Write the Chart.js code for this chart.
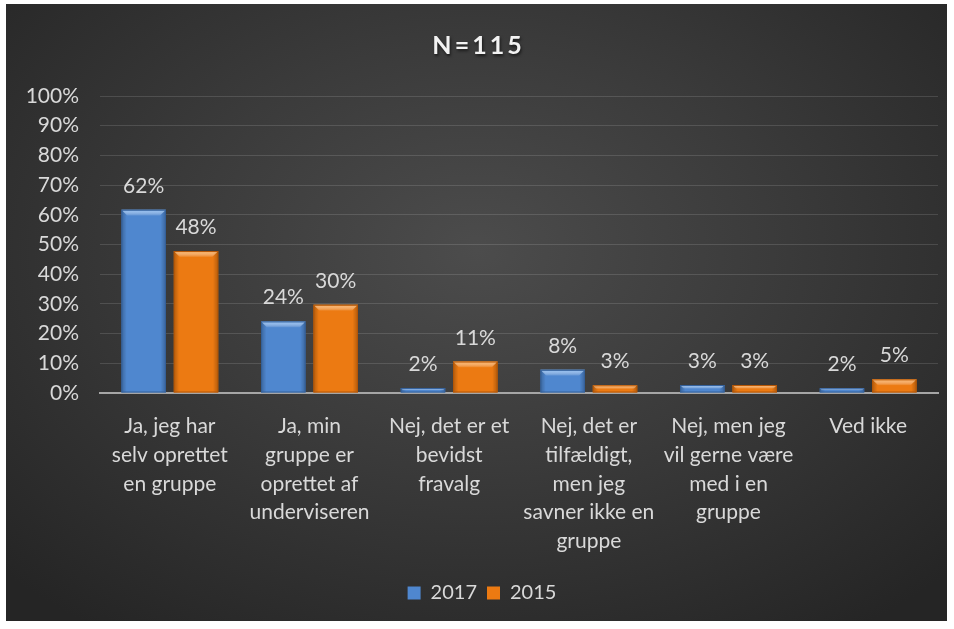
<!DOCTYPE html>
<html lang="da">
<head>
    <meta charset="UTF-8">
    <title>N=115</title>
    <script src="https://cdn.jsdelivr.net/npm/chart.js"></script>
    <style>
        body {
            margin: 0;
            background: #ffffff;
            width: 954px;
            height: 629px;
            overflow: hidden;
        }
        #wrap {
            position: absolute;
            left: 6px;
            top: 4px;
            width: 941px;
            height: 617px;
            background: radial-gradient(ellipse 70% 75% at 50% 40%, #4c4c4c 0%, #3b3b3b 45%, #252525 100%);
        }
    </style>
</head>
<body>
    <div id="wrap">
        <canvas id="myChart"></canvas>
    </div>

    <script>
        // data
        const categories = [
            ["Ja, jeg har", "selv oprettet", "en gruppe"],
            ["Ja, min", "gruppe er", "oprettet af", "underviseren"],
            ["Nej, det er et", "bevidst", "fravalg"],
            ["Nej, det er", "tilfældigt,", "men jeg", "savner ikke en", "gruppe"],
            ["Nej, men jeg", "vil gerne være", "med i en", "gruppe"],
            ["Ved ikke"]
        ];
        const seriesNames = ["2017", "2015"];
        const values2017 = [61.7, 24.1, 1.7, 7.8, 2.7, 1.6];
        const values2015 = [47.8, 29.7, 10.6, 2.6, 2.7, 4.6];
        const titleText = "N=115";

        const FONT = "Lato, 'Open Sans', sans-serif";
        const TEXT = '#d9d9d9';

        // bevel look on the bars
        const bevelPlugin = {
            id: 'bevel',
            afterDatasetsDraw(chart) {
                const ctx = chart.ctx;
                const tones = [
                    { light: '#8dbcf2', dark: '#34609a' },
                    { light: '#f9b063', dark: '#b55606' }
                ];
                chart.data.datasets.forEach((ds, i) => {
                    const meta = chart.getDatasetMeta(i);
                    meta.data.forEach(bar => {
                        const left = bar.x - bar.width / 2;
                        const right = bar.x + bar.width / 2;
                        const top = bar.y;
                        const h = bar.base - bar.y;
                        const b = Math.min(6, h / 2);
                        ctx.save();
                        // side shading
                        const g = ctx.createLinearGradient(left, 0, right, 0);
                        g.addColorStop(0, 'rgba(0,0,0,0.25)');
                        g.addColorStop(0.12, 'rgba(0,0,0,0)');
                        g.addColorStop(0.88, 'rgba(0,0,0,0)');
                        g.addColorStop(1, 'rgba(0,0,0,0.25)');
                        ctx.fillStyle = g;
                        ctx.fillRect(left, top, bar.width, h);
                        // top bevel
                        const tg = ctx.createLinearGradient(0, top, 0, top + b);
                        tg.addColorStop(0, tones[i].light);
                        tg.addColorStop(1, 'rgba(255,255,255,0.05)');
                        ctx.fillStyle = tg;
                        ctx.beginPath();
                        ctx.moveTo(left, top);
                        ctx.lineTo(right, top);
                        ctx.lineTo(right - b, top + b);
                        ctx.lineTo(left + b, top + b);
                        ctx.closePath();
                        ctx.fill();
                        ctx.strokeStyle = tones[i].dark;
                        ctx.lineWidth = 1;
                        ctx.strokeRect(left + 0.5, top + 0.5, bar.width - 1, h - 1);
                        ctx.restore();
                    });
                });
            }
        };

        // value labels above the bars
        const valueLabels = {
            id: 'valueLabels',
            afterDatasetsDraw(chart) {
                const ctx = chart.ctx;
                ctx.save();
                ctx.font = '21px ' + FONT;
                ctx.fillStyle = TEXT;
                ctx.textAlign = 'center';
                ctx.textBaseline = 'alphabetic';
                chart.data.datasets.forEach((ds, i) => {
                    chart.getDatasetMeta(i).data.forEach((bar, j) => {
                        ctx.fillText(Math.round(ds.data[j]) + '%', bar.x, bar.y - 17);
                    });
                });
                ctx.restore();
            }
        };

        // title with letter spacing and a soft shadow
        const titlePlugin = {
            id: 'spacedTitle',
            afterDraw(chart) {
                const ctx = chart.ctx;
                ctx.save();
                ctx.font = 'bold 25px ' + FONT;
                ctx.letterSpacing = '3px';
                ctx.fillStyle = '#f2f2f2';
                ctx.textAlign = 'center';
                ctx.textBaseline = 'middle';
                ctx.shadowColor = 'rgba(0,0,0,0.6)';
                ctx.shadowOffsetX = 1;
                ctx.shadowOffsetY = 2;
                ctx.shadowBlur = 3;
                ctx.fillText(titleText, chart.width / 2 + 2, 42);
                ctx.restore();
            }
        };

        const ctx = document.getElementById('myChart').getContext('2d');
        const myChart = new Chart(ctx, {
            type: 'bar',
            data: {
                labels: categories,
                datasets: [{
                    label: seriesNames[0],
                    data: values2017,
                    backgroundColor: '#4f87cf',
                    borderWidth: 0,
                    barPercentage: 0.85,
                    categoryPercentage: 0.75
                }, {
                    label: seriesNames[1],
                    data: values2015,
                    backgroundColor: '#ec7a12',
                    borderWidth: 0,
                    barPercentage: 0.85,
                    categoryPercentage: 0.75
                }]
            },
            options: {
                responsive: true,
                maintainAspectRatio: false,
                animation: false,
                layout: {
                    padding: { top: 92, right: 9, bottom: 8, left: 20 }
                },
                plugins: {
                    legend: {
                        position: 'bottom',
                        labels: {
                            color: TEXT,
                            font: { family: FONT, size: 20 },
                            boxWidth: 13,
                            boxHeight: 13,
                            padding: 10
                        }
                    },
                    tooltip: { enabled: false },
                    title: { display: false }
                },
                scales: {
                    x: {
                        grid: { display: false, drawTicks: false },
                        border: { display: true, color: '#a6a6a6', width: 2 },
                        ticks: {
                            color: TEXT,
                            font: { family: FONT, size: 21, lineHeight: 1.37 },
                            padding: 19,
                            maxRotation: 0,
                            autoSkip: false
                        },
                        afterFit(scale) { scale.height = 180; }
                    },
                    y: {
                        min: 0,
                        max: 100,
                        ticks: {
                            stepSize: 10,
                            color: TEXT,
                            font: { family: FONT, size: 21 },
                            padding: 21,
                            callback: v => v + '%'
                        },
                        grid: {
                            color: 'rgba(255,255,255,0.13)',
                            lineWidth: 1,
                            drawTicks: false
                        },
                        border: { display: false },
                        afterFit(scale) { scale.width = 74; }
                    }
                }
            },
            plugins: [bevelPlugin, valueLabels, titlePlugin]
        });
    </script>
</body>
</html>
